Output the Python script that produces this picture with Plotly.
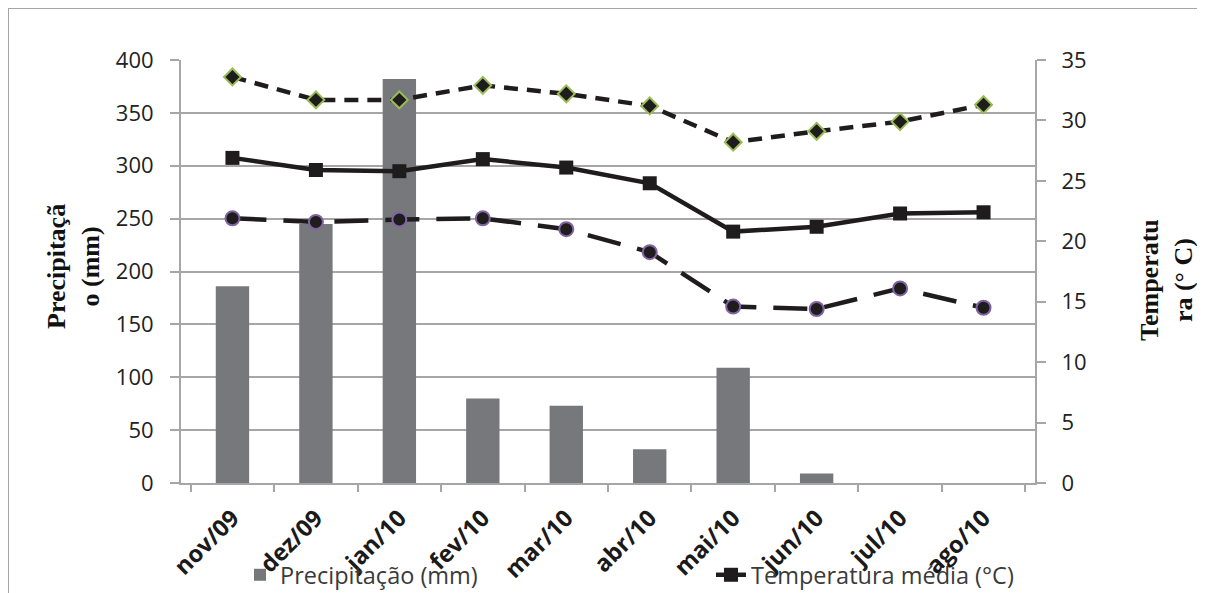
import plotly.graph_objects as go

months = ["nov/09", "dez/09", "jan/10", "fev/10", "mar/10", "abr/10",
          "mai/10", "jun/10", "jul/10", "ago/10"]
precip_mm = [186, 245, 382, 80, 73, 32, 109, 9, 0, 0]
temp_max = [33.6, 31.7, 31.7, 32.9, 32.2, 31.2, 28.2, 29.1, 29.9, 31.3]
temp_mean = [26.9, 25.9, 25.8, 26.8, 26.1, 24.8, 20.8, 21.2, 22.3, 22.4]
temp_min = [21.9, 21.6, 21.8, 21.9, 21.0, 19.1, 14.6, 14.4, 16.1, 14.5]

left_ticks = [0, 50, 100, 150, 200, 250, 300, 350, 400]
right_ticks = [0, 5, 10, 15, 20, 25, 30, 35]

# page has an 8px body margin; plot area in page pixels: x 181..1035, y 60..483
OFF = 8
W, H = 1197, 585
PL, PR, PT, PB = 181, 1035, 60, 483
L, T = PL - OFF, PT - OFF
R = W - L - (PR - PL)
B = H - T - (PB - PT)
pw, ph = PR - PL, PB - PT

def px_x(p):
    return (p - PL) / pw

def px_y(p):
    return (PB - p) / ph

sans = "Open Sans, DejaVu Sans, sans-serif"
tick_font = dict(family=sans, size=22, color="#222222")
title_font = dict(family="Liberation Serif, Times New Roman, serif", size=26, color="#111111")
grid = "#A6A6A6"

fig = go.Figure()

fig.add_trace(go.Bar(
    x=months, y=precip_mm, name="Precipitação (mm)",
    marker=dict(color="#77787B", line=dict(width=0)),
    width=0.4, yaxis="y", legend="legend",
))

fig.add_trace(go.Scatter(
    x=months, y=temp_max, name="Temperatura máxima (°C)", yaxis="y2",
    mode="lines+markers", showlegend=False,
    line=dict(color="#1E1C1D", width=4.5, dash="14px,9px"),
    marker=dict(symbol="diamond", size=13, color="#1E1C1D",
                line=dict(color="#9BBB59", width=2)),
))

fig.add_trace(go.Scatter(
    x=months, y=temp_mean, name="Temperatura média (°C)", yaxis="y2",
    mode="lines+markers", legend="legend2",
    line=dict(color="#1E1C1D", width=4.5),
    marker=dict(symbol="square", size=14, color="#1E1C1D"),
))

fig.add_trace(go.Scatter(
    x=months, y=temp_min, name="Temperatura mínima (°C)", yaxis="y2",
    mode="lines+markers", showlegend=False,
    line=dict(color="#1E1C1D", width=4.5, dash="34px,17px"),
    marker=dict(symbol="circle", size=14, color="#1E1C1D",
                line=dict(color="#8064A2", width=2)),
))

fig.update_layout(
    width=W, height=H,
    margin=dict(l=L, r=R, t=T, b=B, autoexpand=False),
    paper_bgcolor="white", plot_bgcolor="white",
    bargap=0.6,
    xaxis=dict(
        type="category", tickson="boundaries", ticks="outside", ticklen=7,
        tickcolor=grid, tickwidth=2, showline=True, linecolor=grid, linewidth=2,
        tickangle=-45, showgrid=False, ticklabelstandoff=10,
        tickfont=dict(family=sans, size=23.5, color="#1A1A1A", weight="bold"),
    ),
    yaxis=dict(
        range=[0, 400], tickvals=left_ticks, showgrid=True, gridcolor=grid,
        gridwidth=1.5, showline=True, linecolor=grid, linewidth=2,
        ticks="outside", ticklen=9, tickcolor=grid, tickwidth=2,
        tickfont=tick_font, zeroline=False, ticklabelstandoff=12,
    ),
    yaxis2=dict(
        range=[0, 35], tickvals=right_ticks, overlaying="y", side="right",
        showgrid=False, showline=True, linecolor=grid, linewidth=2,
        ticks="outside", ticklen=9, tickcolor=grid, tickwidth=2,
        tickfont=tick_font, zeroline=False, ticklabelstandoff=11,
    ),
    legend=dict(
        x=px_x(240), y=px_y(575), xanchor="left", yanchor="middle",
        orientation="h", bgcolor="rgba(0,0,0,0)",
        font=dict(family=sans, size=23.5, color="#3A3A3A"),
    ),
    legend2=dict(
        x=px_x(711), y=px_y(575), xanchor="left", yanchor="middle",
        orientation="h", bgcolor="rgba(0,0,0,0)",
        font=dict(family=sans, size=23.5, color="#3A3A3A"),
    ),
    annotations=[
        dict(text="<b>Precipitaçã<br>o (mm)</b>", xref="paper", yref="paper",
             x=px_x(73), y=px_y(267), textangle=-90, showarrow=False,
             font=title_font, xanchor="center", yanchor="middle"),
        dict(text="<b>Temperatu<br>ra (° C)</b>", xref="paper", yref="paper",
             x=px_x(1166), y=px_y(280), textangle=-90, showarrow=False,
             font=title_font, xanchor="center", yanchor="middle"),
    ],
    shapes=[
        dict(type="rect", xref="paper", yref="paper",
             x0=px_x(8), x1=px_x(1203), y0=px_y(640), y1=px_y(8),
             line=dict(color="#A6A6A6", width=2), layer="below"),
    ],
)

fig.write_html("out.html")
